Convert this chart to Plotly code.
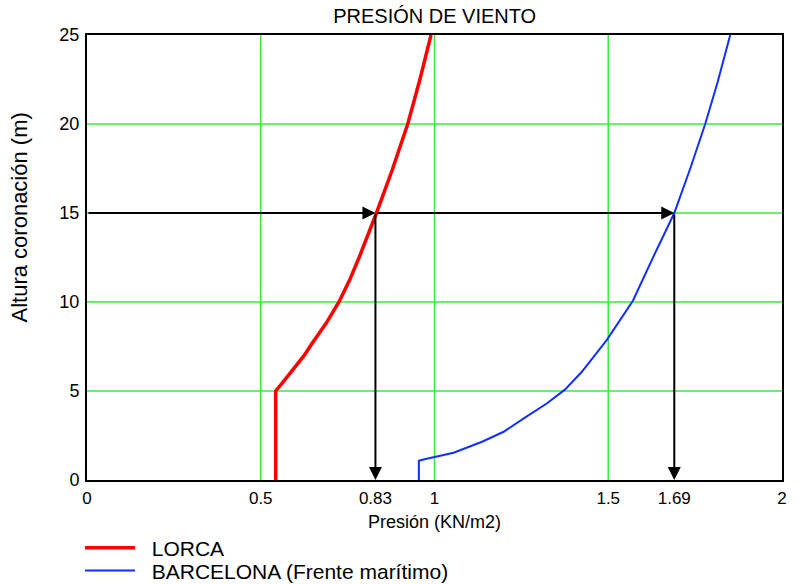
import plotly.graph_objects as go

# Wind pressure profiles (pressure in KN/m2 against crest height in m)
lorca_z = [0, 5, 5.6, 6.37, 7.0, 7.68, 8.8, 10, 11.2, 12.5, 13.8, 15, 17.4, 20, 22.5, 25]
lorca_p = [0.543, 0.543, 0.568, 0.600, 0.625, 0.648, 0.688, 0.725, 0.755, 0.783,
           0.810, 0.833, 0.878, 0.923, 0.958, 0.990]

bcn_z = [0, 1.08, 1.15, 1.27, 1.53, 2.15, 2.71, 3.46, 4.31, 5.09, 6.08, 7.87,
         10.07, 12.55, 15, 17.5, 20, 22.3, 25]
bcn_p = [0.955, 0.955, 0.968, 0.998, 1.055, 1.137, 1.199, 1.257, 1.324, 1.376,
         1.424, 1.496, 1.571, 1.630, 1.690, 1.736, 1.779, 1.814, 1.851]

# Reading at the design height
target_height = 15
lorca_at_target = 0.83
bcn_at_target = 1.69

x_ticks = [0, 0.5, lorca_at_target, 1, 1.5, bcn_at_target, 2]
x_tick_text = ["0", "0.5", "0.83", "1", "1.5", "1.69", "2"]
x_grid = [0.5, 1, 1.5]
y_ticks = [0, 5, 10, 15, 20, 25]
y_grid = [5, 10, 15, 20]

FONT = "Arial, Liberation Sans, Helvetica, sans-serif"
GRID = "#3de83d"
PAD = "\u00a0\u00a0"  # small gap between legend line and its label

fig = go.Figure()
fig.add_trace(go.Scatter(x=lorca_p, y=lorca_z, mode="lines", name=PAD + "LORCA",
                         line=dict(color="#ff0000", width=3.5), legend="legend"))
fig.add_trace(go.Scatter(x=bcn_p, y=bcn_z, mode="lines",
                         name=PAD + "BARCELONA (Frente marítimo)",
                         line=dict(color="#1030ff", width=2), legend="legend2"))

shapes = []
for gx in x_grid:
    shapes.append(dict(type="line", xref="x", yref="y", x0=gx, x1=gx, y0=0, y1=25,
                       line=dict(color=GRID, width=1.5), layer="below"))
for gy in y_grid:
    shapes.append(dict(type="line", xref="x", yref="y", x0=0, x1=2, y0=gy, y1=gy,
                       line=dict(color=GRID, width=1.5), layer="below"))

# Reading arrows: across at the design height, then down to the pressure axis
arrow_style = dict(xref="x", yref="y", axref="x", ayref="y", text="", showarrow=True,
                   arrowhead=2, arrowsize=1.3, arrowwidth=2, arrowcolor="black")
annotations = [
    dict(x=lorca_at_target, y=target_height, ax=0, ay=target_height, **arrow_style),
    dict(x=bcn_at_target, y=target_height, ax=lorca_at_target, ay=target_height, **arrow_style),
    dict(x=lorca_at_target, y=0, ax=lorca_at_target, ay=target_height, **arrow_style),
    dict(x=bcn_at_target, y=0, ax=bcn_at_target, ay=target_height, **arrow_style),
    dict(text="Altura coronación (m)", textangle=-90, xref="paper", yref="paper",
         x=-0.097, y=0.589, xanchor="center", yanchor="middle", showarrow=False,
         font=dict(size=22, family=FONT, color="black")),
]

legend_common = dict(xanchor="left", yanchor="middle", orientation="v",
                     font=dict(size=21, family=FONT, color="black"),
                     bgcolor="rgba(0,0,0,0)", itemwidth=50)

fig.update_layout(
    width=802, height=584,
    margin=dict(l=87, r=20, t=35, b=104, autoexpand=False),
    paper_bgcolor="white", plot_bgcolor="white",
    font=dict(family=FONT, color="black"),
    title=dict(text="PRESIÓN DE VIENTO", x=0.542, xanchor="center", y=0.972, yanchor="middle",
               font=dict(size=20, family=FONT, color="black")),
    shapes=shapes,
    annotations=annotations,
    showlegend=True,
    legend=dict(x=-0.01, y=-0.153, **legend_common),
    legend2=dict(x=-0.01, y=-0.204, **legend_common),
    xaxis=dict(range=[0, 2], tickvals=x_ticks, ticktext=x_tick_text, showgrid=False,
               zeroline=False, showline=True, mirror=True, linecolor="black", linewidth=2,
               ticks="", ticklabelstandoff=2, tickfont=dict(size=17, family=FONT),
               title=dict(text="Presión (KN/m2)", font=dict(size=18, family=FONT), standoff=8)),
    yaxis=dict(range=[0, 25], tickvals=y_ticks, showgrid=False, zeroline=False,
               showline=True, mirror=True, linecolor="black", linewidth=2,
               ticks="", ticklabelstandoff=2, tickfont=dict(size=18, family=FONT)),
)

fig.write_html("out.html")
